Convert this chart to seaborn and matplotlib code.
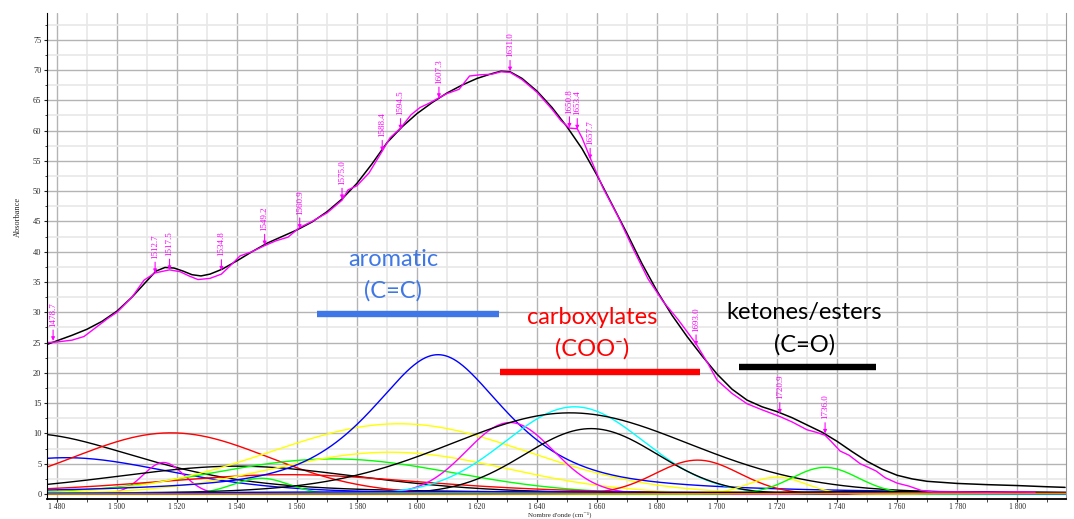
import numpy as np
import pandas as pd
import seaborn as sns
import matplotlib.pyplot as plt
from matplotlib.ticker import MultipleLocator, FuncFormatter

# measured spectrum (magenta)
meas_x = [1476.7, 1480, 1485, 1489, 1493, 1497, 1500, 1505, 1509, 1512.7, 1517.5, 1521, 1524,
          1527, 1531, 1534.8, 1538, 1541, 1545, 1549.2, 1553, 1557, 1560.9, 1565, 1570, 1575,
          1577, 1580, 1584, 1588.4, 1591, 1594.5, 1598, 1601, 1604, 1607.3, 1610, 1614, 1617.5,
          1621, 1625, 1628, 1631, 1635, 1640, 1645, 1648, 1650.8, 1653.4, 1655, 1657.7, 1662,
          1667, 1672, 1677, 1682, 1687, 1693, 1697, 1700, 1705, 1710, 1715, 1720.9, 1725, 1730,
          1733, 1736, 1738, 1741, 1744, 1747.7, 1750, 1753, 1756, 1760, 1764, 1768, 1772, 1780,
          1790, 1800, 1806]
meas_y = [25.0, 25.1, 25.4, 26.0, 27.5, 29.0, 30.0, 32.5, 35.3, 36.5, 37.0, 36.7, 36.0,
          35.4, 35.6, 36.3, 37.8, 39.3, 40.0, 41.0, 41.8, 42.4, 44.0, 45.0, 46.4, 48.5,
          50.2, 50.9, 53.0, 56.6, 58.8, 60.4, 62.6, 63.8, 64.5, 65.4, 66.1, 66.8, 69.0,
          69.2, 69.3, 69.7, 69.6, 68.4, 66.3, 63.5, 61.6, 60.4, 60.3, 58.8, 55.5, 50.5,
          45.8, 40.5, 35.5, 31.8, 28.8, 24.8, 21.5, 18.8, 16.6, 14.9, 13.9, 12.8, 11.9, 10.6,
          10.2, 9.7, 8.7, 7.1, 6.4, 5.0, 4.5, 3.8, 2.7, 1.8, 1.3, 0.6, 0.35, 0.35,
          0.3, 0.35, 0.3]

# fitted envelope (black)
fit_x = [1476.7, 1480, 1485, 1490, 1495, 1500, 1505, 1510, 1513, 1516, 1519, 1522, 1525, 1528,
         1531, 1535, 1540, 1545, 1550, 1555, 1560, 1565, 1570, 1575, 1580, 1585, 1590, 1595,
         1600, 1605, 1610, 1615, 1620, 1625, 1628, 1631, 1635, 1640, 1645, 1650, 1655, 1660,
         1665, 1670, 1675, 1680, 1685, 1690, 1695, 1700, 1705, 1710, 1715, 1720, 1725, 1730,
         1735, 1740, 1745, 1750, 1755, 1760, 1765, 1770, 1780, 1790, 1800, 1810, 1816]
fit_y = [24.7, 25.3, 26.2, 27.2, 28.5, 30.2, 32.5, 35.2, 36.8, 37.4, 37.3, 36.8, 36.2, 36.0,
         36.3, 37.1, 38.5, 40.0, 41.4, 42.5, 43.6, 44.9, 46.6, 48.7, 51.3, 54.5, 58.0, 60.6,
         62.8, 64.6, 66.2, 67.5, 68.6, 69.4, 69.8, 69.7, 68.6, 66.5, 63.8, 60.6, 57.0, 52.6,
         47.8, 43.0, 38.0, 33.5, 29.5, 26.0, 22.8, 19.8, 17.3, 15.5, 14.4, 13.6, 12.6, 11.4,
         10.2, 8.7, 7.0, 5.4, 4.1, 3.1, 2.5, 2.1, 1.75, 1.55, 1.4, 1.2, 1.1]

# fitted bands: colour, centre, height, fwhm, lorentz fraction
band_color = ["black", "blue", "red", "magenta", "black", "lime", "lime", "red", "yellow",
              "yellow", "blue", "magenta", "cyan", "black", "black", "red", "yellow", "lime",
              "cyan", "blue", "black", "#ff8000"]
band_center = [1470, 1483, 1518, 1515.5, 1540, 1572, 1548, 1557, 1594, 1591, 1607, 1631,
               1652.5, 1651, 1658, 1693.5, 1720, 1736, 1560, 1620, 1760, 1800]
band_height = [10.0, 6.0, 10.1, 5.2, 4.6, 5.8, 2.6, 3.2, 11.6, 6.9, 23.0, 11.8,
               14.4, 13.4, 10.8, 5.6, 2.8, 4.4, 0.25, 0.4, 0.4, 0.12]
band_fwhm = [90, 85, 76, 16, 100, 94, 22, 110, 100, 92, 54, 34,
             54, 96, 52, 33, 22, 26, 300, 220, 150, 200]
band_eta = [0.5, 0.4, 0.0, 0.0, 0.3, 0.0, 0.0, 0.5, 0.0, 0.0, 0.7, 0.0,
            0.0, 0.15, 0.0, 0.0, 0.0, 0.0, 0.0, 0.0, 0.5, 0.0]

# peak picks
peak_pos = [1478.7, 1512.7, 1517.5, 1534.8, 1549.2, 1560.9, 1575.0, 1588.4, 1594.5, 1607.3,
            1631.0, 1650.8, 1653.4, 1657.7, 1693.0, 1720.9, 1736.0]
peak_val = [25.3, 36.5, 37.0, 36.9, 41.1, 43.8, 48.7, 56.6, 60.2, 65.4,
            69.8, 60.5, 60.2, 55.3, 24.5, 13.3, 10.0]

# group annotations
groups = [("aromatic", "(C=C)", "#3f78e6", 1592, 1566.6, 1627.3, 29.7),
          ("carboxylates", "(COO\u207b)", "#ff0000", 1658.4, 1627.7, 1694.3, 20.2),
          ("ketones/esters", "(C=O)", "black", 1729, 1707.4, 1753.0, 20.9)]

XMIN, XMAX = 1476.67, 1816.3
YMIN, YMAX = -0.82, 79.4

sns.set_style("white")
plt.rcParams['font.family'] = ['Liberation Serif', 'DejaVu Serif']

fig = plt.figure(figsize=(10.74, 5.19), dpi=100)
ax = fig.add_axes([47 / 1074, 20 / 519, 1019 / 1074, 486 / 519])

wn = np.linspace(XMIN, XMAX, 800)
for c, x0, h, w, eta in zip(band_color, band_center, band_height, band_fwhm, band_eta):
    d = (wn - x0) / w
    g = np.exp(-4 * np.log(2) * d ** 2)
    lz = 1 / (1 + 4 * d ** 2)
    band = pd.DataFrame({"wn": wn, "a": h * (eta * lz + (1 - eta) * g)})
    sns.lineplot(data=band, x="wn", y="a", color=c, lw=1, ax=ax, estimator=None, sort=False)

sns.lineplot(x=fit_x, y=fit_y, color="black", lw=1.1, ax=ax, estimator=None, sort=False)
sns.lineplot(x=meas_x, y=meas_y, color="#ff00ff", lw=1.0, ax=ax, estimator=None, sort=False)

for p, v in zip(peak_pos, peak_val):
    ax.annotate(f"{p:.1f}", xy=(p, v), xytext=(0, 14), textcoords="offset pixels",
                rotation=90, ha="center", va="bottom", fontsize=6.5, color="#ff00ff",
                arrowprops=dict(arrowstyle="-|>", color="#ff00ff", lw=0.8,
                                mutation_scale=5, shrinkA=0, shrinkB=0))

for t1, t2, col, xc, x1, x2, yb in groups:
    ax.plot([x1, x2], [yb, yb], color=col, lw=4.6, solid_capstyle="butt")
    ax.text(xc, yb + 9.0, t1, color=col, fontsize=17, family="Lato", ha="center", va="center")
    ax.text(xc, yb + 3.8, t2, color=col, fontsize=17, family="Lato", ha="center", va="center")

ax.set_xlim(XMIN, XMAX)
ax.set_ylim(YMIN, YMAX)
ax.xaxis.set_major_locator(MultipleLocator(20))
ax.xaxis.set_minor_locator(MultipleLocator(10))
ax.yaxis.set_major_locator(MultipleLocator(5))
ax.yaxis.set_minor_locator(MultipleLocator(2.5))
ax.xaxis.set_major_formatter(FuncFormatter(lambda v, _: f"{int(round(v)):,}".replace(",", " ")))
ax.grid(which="major", color="#b4b4b4", lw=1)
ax.grid(which="minor", color="#e8e8e8", lw=1.2)
ax.set_axisbelow(True)
ax.tick_params(which="major", direction="out", length=2.5, width=0.8, labelsize=5.5, pad=0.5,
               bottom=True, left=True)
ax.tick_params(which="minor", direction="out", length=1.8, width=0.6, bottom=True, left=True)
ax.tick_params(axis="y", labelsize=6, pad=1.5)
ax.spines["top"].set_visible(False)
ax.spines["right"].set_color("#999999")
ax.spines["left"].set_color("black")
ax.spines["bottom"].set_color("black")
ax.spines["bottom"].set_linewidth(1.3)
ax.set_xlabel("")
ax.set_ylabel("")

fig.text(18 / 1074, 1 - 217 / 519, "Absorbance", rotation=90, fontsize=6, ha="center", va="center")
fig.text(560 / 1074, 0.5 / 519, "Nombre d'onde (cm\u207b\u00b9)", fontsize=5,
         ha="center", va="bottom")

fig.savefig("out.png", dpi=100)
